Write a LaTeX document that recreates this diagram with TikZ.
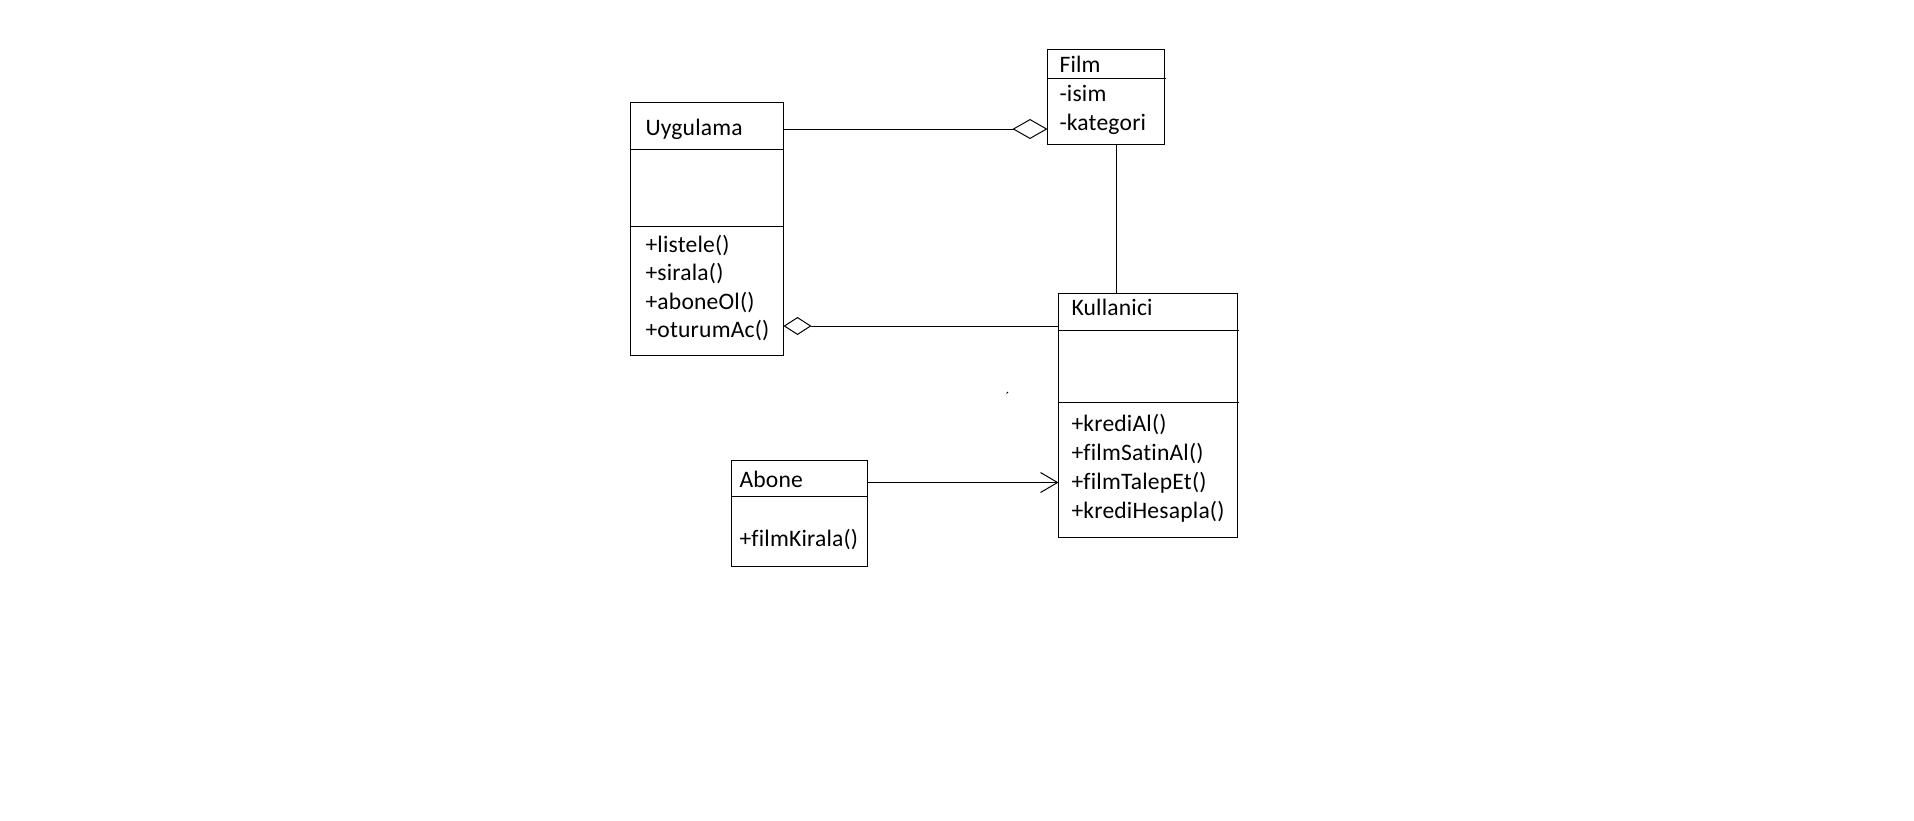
\documentclass[tikz,border=0pt]{standalone}
\usepackage{fontspec}
\setmainfont{Carlito}[Ligatures=NoCommon, LetterSpace=0.8]
\usetikzlibrary{arrows.meta}
\begin{document}
\begin{tikzpicture}[x=1pt, y=-1pt, line width=1pt,
  classbox/.style={draw, rectangle, anchor=north west, inner sep=0pt, outer sep=0pt},
  member/.style={anchor=base west, inner sep=0pt, font=\fontsize{23.6}{28}\selectfont},
  directed/.style={-{Straight Barb[length=17pt, width=20pt]}}]
\fill[white] (0,0) rectangle (1914,820);
\useasboundingbox (0,0) rectangle (1914,820);

% class boxes
\node[classbox, minimum width=153pt, minimum height=253pt] (uyg) at (630.5,102.5) {};
\node[classbox, minimum width=116.5pt, minimum height=95pt] (film) at (1047.5,49.5) {};
\node[classbox, minimum width=179pt, minimum height=243.5pt] (kul) at (1058.5,293.5) {};
\node[classbox, minimum width=136pt, minimum height=106pt] (abone) at (731.5,460) {};

% compartment dividers
\draw (uyg.west |- 0,149.5) -- (uyg.east |- 0,149.5);
\draw (uyg.west |- 0,226.5) -- (uyg.east |- 0,226.5);
\draw (film.west |- 0,78.5) -- ([xshift=1.5pt]film.east |- 0,78.5);
\draw (kul.west |- 0,330.5) -- ([xshift=1.5pt]kul.east |- 0,330.5);
\draw (kul.west |- 0,402.5) -- ([xshift=1.5pt]kul.east |- 0,402.5);
\draw (abone.west |- 0,496) -- (abone.east |- 0,496);

% Uygulama
\node[member] (uygName) at (645,135) {Uygulama};
\node[member] (uygM1) at (645,252.3) {+listele()};
\node[member] (uygM2) at (645,280.8) {+sirala()};
\node[member] (uygM3) at (645,309.3) {+aboneOl()};
\node[member] (uygM4) at (645,337.8) {+oturumAc()};

% Film
\node[member] (filmName) at (1059,72.3) {Film};
\node[member] (filmA1) at (1059,101.5) {-isim};
\node[member] (filmA2) at (1059,130.7) {-kategori};

% Kullanici
\node[member] (kulName) at (1071,315) {Kullanici};
\node[member] (kulM1) at (1071,431.7) {+krediAl()};
\node[member] (kulM2) at (1071,460.5) {+filmSatinAl()};
\node[member] (kulM3) at (1071,489.3) {+filmTalepEt()};
\node[member] (kulM4) at (1071,518.2) {+krediHesapla()};

% Abone
\node[member] (aboneName) at (739,487.7) {Abone};
\node[member] (aboneM1) at (739,546) {+filmKirala()};

% connector end points on the box sides
\coordinate (uygFilm) at (uyg.east |- 0,129);
\coordinate (filmUyg) at (film.west |- 0,129);
\coordinate (uygKul) at (uyg.east |- 0,326);
\coordinate (kulUyg) at (kul.west |- 0,326);
\coordinate (filmKul) at (1116.5,0 |- film.south);
\coordinate (kulFilm) at (1116.5,0 |- kul.north);
\coordinate (aboneKul) at (abone.east |- 0,482.5);
\coordinate (kulAbone) at (kul.west |- 0,482.5);

% associations
\draw[-{Diamond[open, length=35pt, width=20pt]}] (uygFilm) -- (filmUyg);
\draw[-{Diamond[open, length=28pt, width=18pt]}] (kulUyg) -- (uygKul);
\draw (filmKul) -- (kulFilm);
\draw[directed] (aboneKul) -- (kulAbone);

% small stray tick
\draw[line width=0.8pt] (1006.5,393.5) -- (1008,392);
\end{tikzpicture}
\end{document}
